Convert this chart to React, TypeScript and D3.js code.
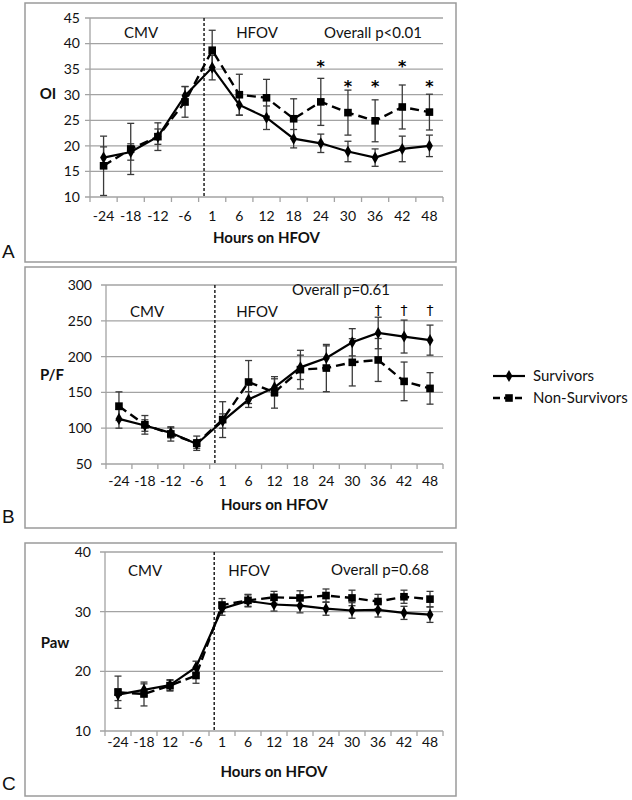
import React from "react";
import * as d3 from "d3";

const hoursAB = ["-24", "-18", "-12", "-6", "1", "6", "12", "18", "24", "30", "36", "42", "48"];
const hoursC = ["-24", "-18", "12", "-6", "1", "6", "12", "18", "24", "30", "36", "42", "48"];

const survOI = [17.7, 18.8, 21.8, 29.8, 35.3, 28.0, 25.5, 21.4, 20.5, 18.9, 17.7, 19.4, 20.0];
const survOIErr = [2.1, 1.6, 1.5, 1.8, 2.4, 2.0, 2.3, 1.8, 1.8, 2.0, 1.7, 2.5, 2.1];
const nonOI = [16.1, 19.4, 21.8, 28.6, 38.7, 30.0, 29.4, 25.3, 28.6, 26.5, 24.9, 27.6, 26.6];
const nonOIErr = [5.8, 5.0, 2.7, 3.0, 3.9, 4.0, 3.6, 3.9, 4.6, 4.4, 4.1, 4.3, 3.5];
const oiMarks = ["", "", "", "", "", "", "", "", "*", "*", "*", "*", "*"];
const oiMarkY = [0, 0, 0, 0, 0, 0, 0, 0, 36.3, 32.4, 32.4, 36.3, 32.4];

const survPF = [113, 103.7, 93.5, 78, 110, 140, 157, 185, 198, 220, 233, 228, 223];
const survPFErr = [13, 8, 7, 6, 10, 11, 12, 17, 17, 19, 22, 23, 21];
const nonPF = [130.8, 104.7, 92, 79, 112, 164.5, 150, 181.8, 184, 192, 195.3, 165.4, 155.6];
const nonPFErr = [20, 13, 10, 10, 25, 30, 22, 27, 33, 33, 30, 27, 22];
const pfMarks = ["", "", "", "", "", "", "", "", "", "", "\u2020", "\u2020", "\u2020"];
const pfMarkY = [0, 0, 0, 0, 0, 0, 0, 0, 0, 0, 265, 265, 265];

const survPaw = [16.1, 16.9, 17.7, 20.7, 30.5, 31.8, 31.2, 31.0, 30.5, 30.2, 30.3, 29.8, 29.5];
const survPawErr = [1.0, 1.0, 0.9, 1.0, 1.1, 1.0, 1.1, 1.2, 1.1, 1.3, 1.2, 1.1, 1.3];
const nonPaw = [16.5, 16.2, 17.6, 19.3, 31.1, 31.9, 32.4, 32.3, 32.7, 32.3, 31.7, 32.5, 32.1];
const nonPawErr = [2.7, 2.0, 0.9, 1.3, 1.1, 1.0, 1.0, 1.2, 1.1, 1.3, 1.2, 1.1, 1.3];

const seriesNames = ["Survivors", "Non-Survivors"];

const FONT = "Lato, 'Open Sans', sans-serif";
const GRID = "#a3a3a3";
const ERR = "#3a3a3a";

type PanelProps = {
  letter: string;
  box: { x: number; y: number; w: number; h: number };
  plot: { left: number; right: number; top: number; bottom: number };
  domain: [number, number];
  ticks: number[];
  labels: string[];
  surv: number[];
  survErr: number[];
  non: number[];
  nonErr: number[];
  marks?: string[];
  markY?: number[];
  yTitle: string;
  yTitlePos: [number, number];
  cmvPos: [number, number];
  hfovPos: [number, number];
  pText: string;
  pPos: [number, number];
  tickLabelY: number;
  xTitleY: number;
  yLabelGap: number;
  letterY: number;
};

function Panel(p: PanelProps) {
  const x = d3.scaleBand<string>().domain(p.labels.map((_, i) => String(i))).range([p.plot.left, p.plot.right]);
  const y = d3.scaleLinear().domain(p.domain).range([p.plot.bottom, p.plot.top]);
  const cx = (i: number) => (x(String(i)) as number) + x.bandwidth() / 2;
  const line = d3
    .line<number>()
    .x((_, i) => cx(i))
    .y((d) => y(d));
  const diamond = d3.symbol().type(d3.symbolDiamond).size(42)() as string;
  const square = d3.symbol().type(d3.symbolSquare).size(58)() as string;
  const bw = x.bandwidth();
  const dashX = p.plot.left + 4 * bw + 0.2 * bw;
  const bounds = d3.range(p.labels.length + 1).map((i) => p.plot.left + i * bw);

  const errBars = (vals: number[], errs: number[], key: string) =>
    vals.map((v, i) => {
      const x0 = cx(i);
      const y1 = y(v + errs[i]);
      const y2 = y(v - errs[i]);
      return (
        <g key={key + i} stroke={ERR} strokeWidth={1.3}>
          <line x1={x0} x2={x0} y1={y1} y2={y2} />
          <line x1={x0 - 3.5} x2={x0 + 3.5} y1={y1} y2={y1} />
          <line x1={x0 - 3.5} x2={x0 + 3.5} y1={y2} y2={y2} />
        </g>
      );
    });

  return (
    <g>
      <rect x={p.box.x} y={p.box.y} width={p.box.w} height={p.box.h} fill="white" stroke="#9a9a9a" strokeWidth={1.5} />
      <text x={2} y={p.letterY} fontFamily="'Liberation Sans', Arial, sans-serif" fontSize={19} fill="#111">
        {p.letter}
      </text>
      {p.ticks.map((t) => (
        <g key={"g" + t}>
          <line x1={p.plot.left - 5} x2={p.plot.right} y1={y(t)} y2={y(t)} stroke={GRID} strokeWidth={1.3} />
          <text
            x={p.plot.left - p.yLabelGap}
            y={y(t)}
            dy="0.35em"
            textAnchor="end"
            fontFamily={FONT}
            fontSize={14}
            fill="#111"
          >
            {t}
          </text>
        </g>
      ))}
      <line x1={p.plot.left} x2={p.plot.left} y1={p.plot.top} y2={p.plot.bottom} stroke={GRID} strokeWidth={1.3} />
      {bounds.map((b, i) => (
        <line key={"t" + i} x1={b} x2={b} y1={p.plot.bottom} y2={p.plot.bottom + 5} stroke={GRID} strokeWidth={1.3} />
      ))}
      {p.labels.map((l, i) => (
        <text key={"xl" + i} x={cx(i)} y={p.tickLabelY} dy="0.35em" textAnchor="middle" fontFamily={FONT} fontSize={14} fill="#111">
          {l}
        </text>
      ))}
      <text
        x={(p.plot.left + p.plot.right) / 2}
        y={p.xTitleY}
        dy="0.35em"
        textAnchor="middle"
        fontFamily={FONT}
        fontWeight="bold"
        fontSize={15}
        fill="#111"
      >
        Hours on HFOV
      </text>
      <text x={p.yTitlePos[0]} y={p.yTitlePos[1]} dy="0.35em" textAnchor="middle" fontFamily={FONT} fontWeight="bold" fontSize={15} fill="#111">
        {p.yTitle}
      </text>
      <line x1={dashX} x2={dashX} y1={p.plot.top} y2={p.plot.bottom} stroke="#111" strokeWidth={1.4} strokeDasharray="3,2" />
      <text x={p.cmvPos[0]} y={p.cmvPos[1]} dy="0.35em" textAnchor="middle" fontFamily={FONT} fontSize={15} fill="#111">
        CMV
      </text>
      <text x={p.hfovPos[0]} y={p.hfovPos[1]} dy="0.35em" textAnchor="middle" fontFamily={FONT} fontSize={15} fill="#111">
        HFOV
      </text>
      <text x={p.pPos[0]} y={p.pPos[1]} dy="0.35em" textAnchor="middle" fontFamily={FONT} fontSize={15} fill="#111">
        {p.pText}
      </text>
      {errBars(p.surv, p.survErr, "es")}
      {errBars(p.non, p.nonErr, "en")}
      <path d={line(p.surv) as string} fill="none" stroke="#000" strokeWidth={2.2} />
      <path d={line(p.non) as string} fill="none" stroke="#000" strokeWidth={2.4} strokeDasharray="9,5" />
      {p.surv.map((v, i) => (
        <path key={"ds" + i} d={diamond} transform={`translate(${cx(i)},${y(v)})`} fill="#000" />
      ))}
      {p.non.map((v, i) => (
        <path key={"sq" + i} d={square} transform={`translate(${cx(i)},${y(v)})`} fill="#000" />
      ))}
      {p.marks &&
        p.marks.map((m, i) =>
          m ? (
            <text
              key={"m" + i}
              x={cx(i)}
              y={y((p.markY as number[])[i])}
              dy={m === "*" ? "0.6em" : "0.35em"}
              textAnchor="middle"
              fontFamily="'DejaVu Sans', sans-serif"
              fontSize={m === "*" ? 16 : 14}
              fontWeight={m === "*" ? "bold" : "normal"}
              fill="#000"
            >
              {m}
            </text>
          ) : null
        )}
    </g>
  );
}

export default function App() {
  const diamond = d3.symbol().type(d3.symbolDiamond).size(42)() as string;
  const square = d3.symbol().type(d3.symbolSquare).size(58)() as string;
  return (
    <svg width={632} height={800} style={{ position: "absolute", left: 0, top: 0, background: "white" }}>
      <rect x={0} y={0} width={632} height={800} fill="white" />
      <Panel
        letter="A"
        box={{ x: 25, y: 3, w: 431, h: 259 }}
        plot={{ left: 90, right: 443, top: 18, bottom: 197 }}
        domain={[10, 45]}
        ticks={d3.range(10, 46, 5)}
        labels={hoursAB}
        surv={survOI}
        survErr={survOIErr}
        non={nonOI}
        nonErr={nonOIErr}
        marks={oiMarks}
        markY={oiMarkY}
        yTitle="OI"
        yTitlePos={[48, 94]}
        cmvPos={[141, 33]}
        hfovPos={[257, 33]}
        pText="Overall p<0.01"
        pPos={[373, 33]}
        tickLabelY={216}
        xTitleY={238}
        yLabelGap={10}
        letterY={258}
      />
      <Panel
        letter="B"
        box={{ x: 25, y: 267, w: 431, h: 261 }}
        plot={{ left: 106, right: 443, top: 285, bottom: 464 }}
        domain={[50, 300]}
        ticks={d3.range(50, 301, 50)}
        labels={hoursAB}
        surv={survPF}
        survErr={survPFErr}
        non={nonPF}
        nonErr={nonPFErr}
        marks={pfMarks}
        markY={pfMarkY}
        yTitle="P/F"
        yTitlePos={[52, 375]}
        cmvPos={[147, 312]}
        hfovPos={[257, 312]}
        pText="Overall p=0.61"
        pPos={[341, 290]}
        tickLabelY={481}
        xTitleY={505}
        yLabelGap={14}
        letterY={523}
      />
      <Panel
        letter="C"
        box={{ x: 25, y: 543, w: 431, h: 253 }}
        plot={{ left: 105, right: 443, top: 552, bottom: 731 }}
        domain={[10, 40]}
        ticks={d3.range(10, 41, 10)}
        labels={hoursC}
        surv={survPaw}
        survErr={survPawErr}
        non={nonPaw}
        nonErr={nonPawErr}
        yTitle="Paw"
        yTitlePos={[55, 643]}
        cmvPos={[145, 571]}
        hfovPos={[249, 571]}
        pText="Overall p=0.68"
        pPos={[380, 570]}
        tickLabelY={742}
        xTitleY={772}
        yLabelGap={14}
        letterY={790}
      />
      <g>
        <line x1={493} x2={525} y1={376} y2={376} stroke="#000" strokeWidth={2.2} />
        <path d={diamond} transform="translate(509,376)" fill="#000" />
        <text x={533} y={376} dy="0.35em" fontFamily={FONT} fontSize={15} fill="#111">
          {seriesNames[0]}
        </text>
        <line x1={493} x2={525} y1={398} y2={398} stroke="#000" strokeWidth={2.4} strokeDasharray="7,4" />
        <path d={square} transform="translate(509,398)" fill="#000" />
        <text x={533} y={398} dy="0.35em" fontFamily={FONT} fontSize={15} fill="#111">
          {seriesNames[1]}
        </text>
      </g>
    </svg>
  );
}
